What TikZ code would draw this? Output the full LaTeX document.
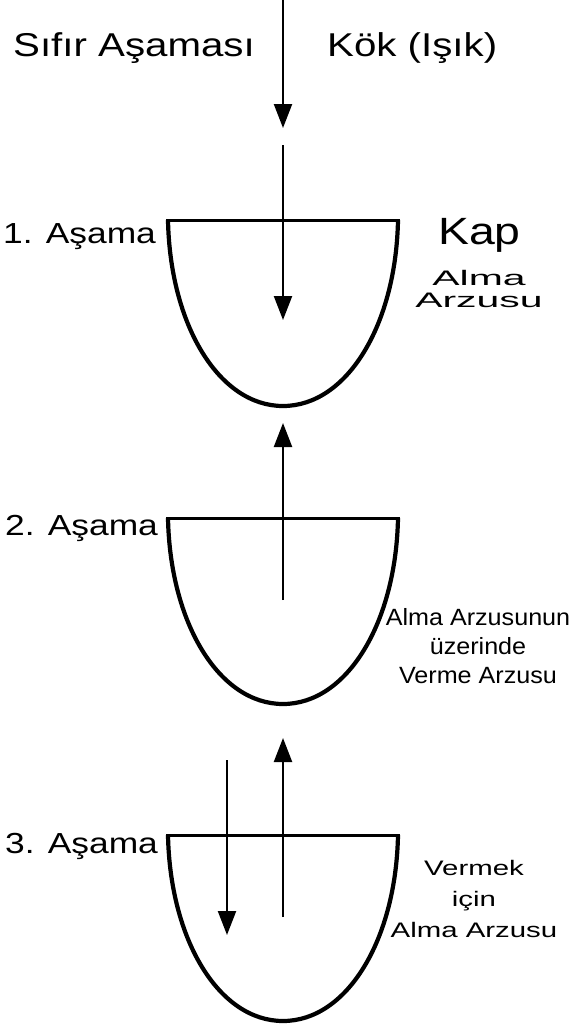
\documentclass[tikz,border=0pt]{standalone}
\usepackage{fontspec}
\setmainfont{Liberation Sans}[FakeStretch=1.22]
\newfontfamily\genisyazi{Liberation Sans}[FakeStretch=1.95]
\newfontfamily\ortayazi{Liberation Sans}[FakeStretch=1.4]
\newfontfamily\daryazi{Liberation Sans}[FakeStretch=1.07]
\usetikzlibrary{arrows.meta}

\begin{document}
\begin{tikzpicture}[
  x=1pt, y=-1pt,
  baslik/.style={font=\fontsize{33}{36}\selectfont, anchor=base west, inner sep=0pt},
  asama/.style={font=\fontsize{29}{32}\selectfont, anchor=base west, inner sep=0pt},
  aciklama/.style={align=center, anchor=base, inner sep=0pt},
  kenar/.style={line width=4.2pt},
  agiz/.style={line width=3pt},
  ok/.style={every edge/.style={draw, line width=2.2pt, -{Triangle[width=18pt,length=24pt]}}},
  kap/.pic={
    \draw[kenar] (-115,0) .. controls (-113,105) and (-64,186) .. (0,186)
                          .. controls (64,186) and (113,105) .. (115,0);
    \draw[agiz] (-117,0) -- (117,0);
  }
  ]
  \useasboundingbox (0,0) rectangle (575,1026);

  \pic (kap1) at (283,220) {kap};
  \pic (kap2) at (283,518) {kap};
  \pic (kap3) at (283,835) {kap};

  \node[baslik] (sifir) at (13,56) {Sıfır Aşaması};
  \node[baslik] (kok) at (327,56) {Kök (Işık)};
  \node[asama] (asama1) at (3,243) {1. Aşama};
  \node[asama] (asama2) at (5,535) {2. Aşama};
  \node[asama] (asama3) at (5,853) {3. Aşama};
  \node[font=\fontsize{38}{40}\selectfont, anchor=base west, inner sep=0pt] (kapyazi) at (438,244) {Kap};
  \node[aciklama, font=\genisyazi\fontsize{21}{22}\selectfont] (alma1) at (479,307) {Alma\\Arzusu};
  \node[aciklama, font=\daryazi\fontsize{23.5}{29}\selectfont] (verme2) at (478,683) {Alma Arzusunun\\üzerinde\\Verme Arzusu};
  \node[aciklama, font=\ortayazi\fontsize{21}{31}\selectfont] (alma3) at (474,937) {Vermek\\için\\Alma Arzusu};

  \coordinate (isikbas) at (283,0);
  \coordinate (isikuc) at (283,128);
  \coordinate (k1bas) at (283,145);
  \coordinate (k1uc) at (283,320);
  \coordinate (k2bas) at (283,600);
  \coordinate (k2uc) at (283,423);
  \coordinate (k3inbas) at (227,760);
  \coordinate (k3inuc) at (227,935);
  \coordinate (k3cikbas) at (283,917);
  \coordinate (k3cikuc) at (283,738);

  \path[ok]
  (isikbas)  edge (isikuc)
  (k1bas)    edge (k1uc)
  (k2bas)    edge (k2uc)
  (k3inbas)  edge (k3inuc)
  (k3cikbas) edge (k3cikuc)
  ;
\end{tikzpicture}
\end{document}
